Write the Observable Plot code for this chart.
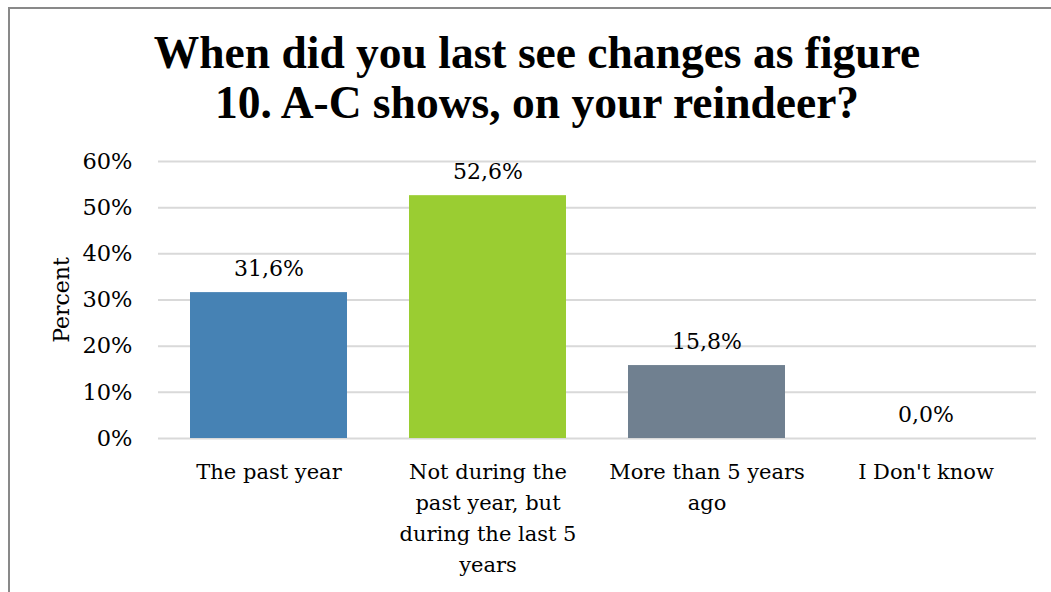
<!DOCTYPE html>
<html>
<head>
<meta charset="utf-8">
<script src="https://cdn.jsdelivr.net/npm/d3@7"></script>
<script src="https://cdn.jsdelivr.net/npm/@observablehq/plot@0.6"></script>
<style>
  html, body { margin: 0; padding: 0; background: #fff; }
  #wrap { position: relative; width: 1051px; height: 592px; overflow: hidden; }
  #frame { position: absolute; left: 8px; top: 7px; width: 1100px; height: 700px; border: 2px solid #898989; box-sizing: border-box; }
  #title { position: absolute; left: 0; top: 28px; width: 1074px; text-align: center;
           font-family: "Liberation Serif", serif; font-weight: bold; font-size: 45.5px; line-height: 50px; color: #000; }
  #chart { position: absolute; left: 0; top: 0; }
</style>
</head>
<body>
<div id="wrap">
  <div id="frame"></div>
  <div id="title">When did you last see changes as figure<br>10. A-C shows, on your reindeer?</div>
  <div id="chart"></div>
</div>
<script>
const categories = ["The past year", "Not during the\npast year, but\nduring the last 5\nyears", "More than 5 years\nago", "I Don't know"];
const values = [31.6, 52.6, 15.8, 0.0];
const colors = ["#4682B4", "#9ACD32", "#708090", "#4682B4"];
const yTicks = [0, 10, 20, 30, 40, 50, 60];

const data = categories.map((c, i) => ({category: c, value: values[i], color: colors[i]}));
const fmt = v => d3.format(".1f")(v).replace(".", ",") + "%";

const chart = Plot.plot({
  width: 1051,
  height: 592,
  marginTop: 161,
  marginBottom: 154,
  marginLeft: 158,
  marginRight: 15,
  style: {fontFamily: "DejaVu Serif, serif", fontSize: "21px", color: "#000", background: "transparent", overflow: "visible"},
  x: {domain: categories, paddingInner: 0.285, paddingOuter: 0.1425, label: null},
  y: {domain: [0, 60], label: null},
  marks: [
    Plot.gridY(yTicks, {stroke: "#d9d9d9", strokeWidth: 2, strokeOpacity: 1}),
    Plot.barY(data, {x: "category", y: "value", fill: "color"}),
    Plot.text(data, {x: "category", y: "value", text: d => fmt(d.value), dy: -24, fontSize: 22, fill: "#000"}),
    Plot.axisY({ticks: yTicks, tickSize: 0, tickPadding: 26, tickFormat: d => d + "%", fontSize: 22.5, label: null}),
    Plot.axisX({tickSize: 0, tickPadding: 18, lineHeight: 1.48, fontSize: 21, label: null, textAnchor: "middle"}),
    Plot.text(["Percent"], {frameAnchor: "left", textAnchor: "middle", dx: -97, rotate: -90, fontSize: 22, fill: "#000"})
  ]
});
document.getElementById("chart").appendChild(chart);
</script>
</body>
</html>
